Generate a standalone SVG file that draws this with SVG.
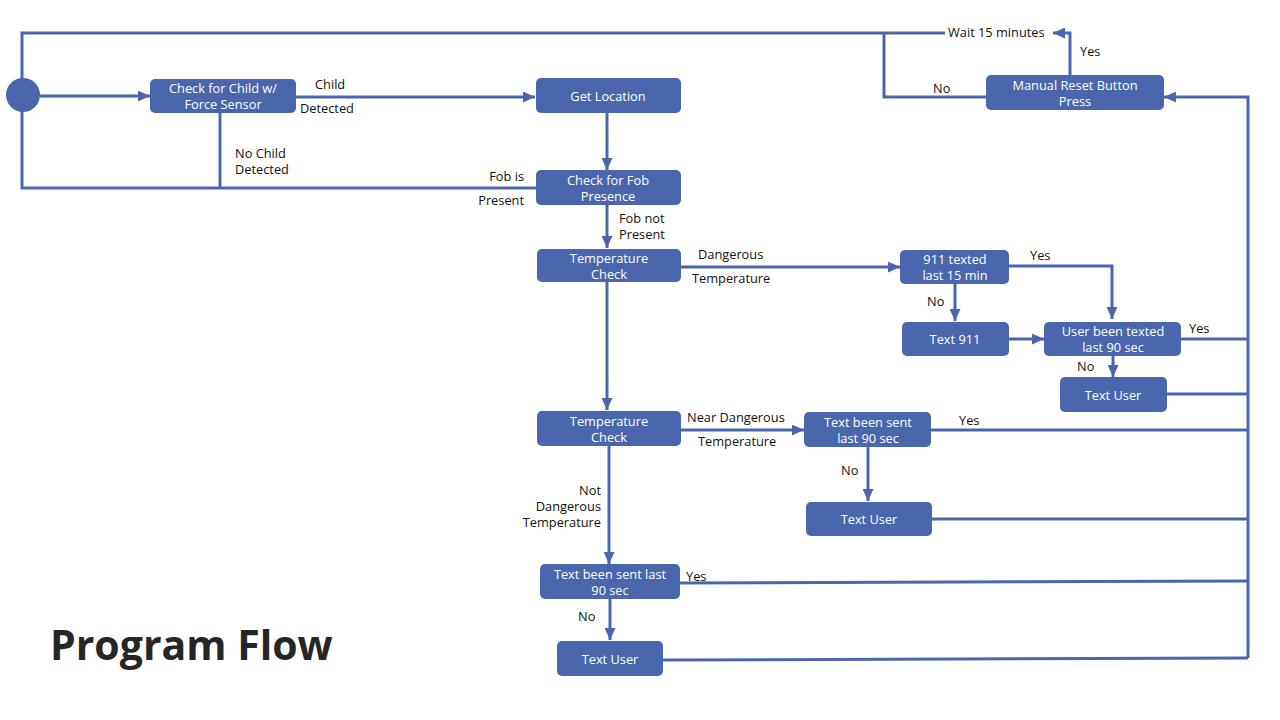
<svg xmlns="http://www.w3.org/2000/svg" width="1280" height="720" viewBox="0 0 1280 720">
<defs>
<marker id="ah" viewBox="0 0 12 11" refX="12" refY="5.5" markerWidth="12" markerHeight="11" markerUnits="userSpaceOnUse" orient="auto">
<path d="M0,0 L12,5.5 L0,11 Z" fill="#4a66ac"/>
</marker>
</defs>
<style>
.box{fill:#4a66ac}
.bt{fill:#ffffff;font-family:"Open Sans","Liberation Sans",sans-serif;font-size:12.8px;text-anchor:middle}
.lb{fill:#111111;font-family:"Open Sans","Liberation Sans",sans-serif;font-size:12.8px}
.c{fill:none;stroke:#4a66ac;stroke-width:3}
.a{marker-end:url(#ah)}
</style>
<rect width="1280" height="720" fill="#ffffff"/>
<g id="connectors">
<path class="c" d="M22,88 V33 H945"/>
<path class="c" d="M884,33 V97 H987"/>
<path class="c" d="M22,100 V188 H536"/>
<path class="c" d="M220,113 V188"/>
<path class="c a" d="M40,96 H150"/>
<path class="c a" d="M296,97 H535"/>
<path class="c a" d="M607,113 V170"/>
<path class="c a" d="M607,205 V248"/>
<path class="c a" d="M681,267 H900"/>
<path class="c a" d="M1009,266 H1112 V319"/>
<path class="c a" d="M955,284 V321"/>
<path class="c a" d="M1009,339 H1044"/>
<path class="c" d="M1181,339 H1248"/>
<path class="c a" d="M1113,356 V377"/>
<path class="c" d="M1167,394 H1248"/>
<path class="c a" d="M1248,658 V97 H1164"/>
<path class="c a" d="M1070,75 V33 H1053"/>
<path class="c a" d="M607,282 V410"/>
<path class="c a" d="M681,430 H804"/>
<path class="c" d="M931,430 H1248"/>
<path class="c a" d="M868,447 V501"/>
<path class="c" d="M932,519 H1248"/>
<path class="c a" d="M609,446 V564"/>
<path class="c" d="M680,583 L1248,581"/>
<path class="c a" d="M610,599 V640"/>
<path class="c" d="M663,660 L1248,658"/>
</g>
<g id="start"><circle cx="23" cy="95" r="17" fill="#4a66ac"/></g>
<g id="check-child"><rect class="box" x="150" y="79" width="146" height="34" rx="5"/><text class="bt" x="223" y="93">Check for Child w/</text><text class="bt" x="223" y="109">Force Sensor</text></g>
<g id="get-location"><rect class="box" x="536" y="78" width="145" height="35" rx="5"/><text class="bt" x="608" y="101">Get Location</text></g>
<g id="check-fob"><rect class="box" x="536" y="170" width="145" height="35" rx="5"/><text class="bt" x="608" y="185">Check for Fob</text><text class="bt" x="608" y="201">Presence</text></g>
<g id="temp-check-1"><rect class="box" x="537" y="249" width="144" height="33" rx="5"/><text class="bt" x="609" y="263">Temperature</text><text class="bt" x="609" y="279">Check</text></g>
<g id="texted-911"><rect class="box" x="900" y="250" width="109" height="34" rx="5"/><text class="bt" x="955" y="264">911 texted</text><text class="bt" x="955" y="280">last 15 min</text></g>
<g id="text-911"><rect class="box" x="902" y="322" width="107" height="34" rx="5"/><text class="bt" x="955" y="344">Text 911</text></g>
<g id="user-texted"><rect class="box" x="1044" y="322" width="137" height="34" rx="5"/><text class="bt" x="1113" y="336">User been texted</text><text class="bt" x="1113" y="352">last 90 sec</text></g>
<g id="text-user-1"><rect class="box" x="1060" y="377" width="107" height="35" rx="5"/><text class="bt" x="1113" y="400">Text User</text></g>
<g id="manual-reset"><rect class="box" x="986" y="75" width="178" height="35" rx="5"/><text class="bt" x="1075" y="90">Manual Reset Button</text><text class="bt" x="1075" y="106">Press</text></g>
<g id="temp-check-2"><rect class="box" x="537" y="411" width="144" height="35" rx="5"/><text class="bt" x="609" y="426">Temperature</text><text class="bt" x="609" y="442">Check</text></g>
<g id="text-sent-1"><rect class="box" x="804" y="412" width="127" height="35" rx="5"/><text class="bt" x="868" y="427">Text been sent</text><text class="bt" x="868" y="443">last 90 sec</text></g>
<g id="text-user-2"><rect class="box" x="806" y="502" width="126" height="34" rx="5"/><text class="bt" x="869" y="524">Text User</text></g>
<g id="text-sent-2"><rect class="box" x="540" y="564" width="140" height="35" rx="5"/><text class="bt" x="610" y="579">Text been sent last</text><text class="bt" x="610" y="595">90 sec</text></g>
<g id="text-user-3"><rect class="box" x="557" y="641" width="106" height="35" rx="5"/><text class="bt" x="610" y="664">Text User</text></g>
<g id="labels">
<text class="lb" x="948" y="37">Wait 15 minutes</text>
<text class="lb" x="1080" y="56">Yes</text>
<text class="lb" x="933" y="93">No</text>
<text class="lb" x="315" y="89">Child</text>
<text class="lb" x="300" y="113">Detected</text>
<text class="lb" x="235" y="158">No Child</text>
<text class="lb" x="235" y="174">Detected</text>
<text class="lb" x="524" y="181" text-anchor="end">Fob is</text>
<text class="lb" x="524" y="205" text-anchor="end">Present</text>
<text class="lb" x="619" y="223">Fob not</text>
<text class="lb" x="619" y="239">Present</text>
<text class="lb" x="698" y="259">Dangerous</text>
<text class="lb" x="692" y="283">Temperature</text>
<text class="lb" x="1030" y="260">Yes</text>
<text class="lb" x="927" y="306">No</text>
<text class="lb" x="1189" y="333">Yes</text>
<text class="lb" x="1077" y="371">No</text>
<text class="lb" x="687" y="422">Near Dangerous</text>
<text class="lb" x="698" y="446">Temperature</text>
<text class="lb" x="959" y="425">Yes</text>
<text class="lb" x="841" y="475">No</text>
<text class="lb" x="601" y="495" text-anchor="end">Not</text>
<text class="lb" x="601" y="511" text-anchor="end">Dangerous</text>
<text class="lb" x="601" y="527" text-anchor="end">Temperature</text>
<text class="lb" x="686" y="581">Yes</text>
<text class="lb" x="578" y="621">No</text>
</g>
<g id="title"><text x="50" y="660" font-family="'Open Sans','Liberation Sans',sans-serif" font-weight="bold" font-size="41" fill="#262626">Program Flow</text></g>
</svg>
